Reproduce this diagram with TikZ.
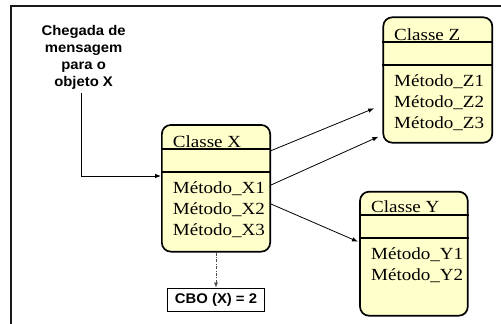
\documentclass[tikz,border=0pt]{standalone}
\usepackage{fontspec}
\setmainfont{Liberation Serif}
\newfontfamily\umlfont[FakeStretch=1.12]{Liberation Serif}
\newfontfamily\notefont[FakeStretch=1.06]{Liberation Sans}
\usetikzlibrary{arrows.meta}
\definecolor{classfill}{HTML}{FFFFCC}
\begin{document}
\begin{tikzpicture}[x=1pt,y=-1pt,
  classbox/.style={draw=black, line width=1.7pt, fill=classfill,
    rounded corners=9pt, inner sep=0pt},
  sep/.style={line width=1.6pt},
  umltext/.style={font=\umlfont\fontsize{17}{21}\selectfont,
    anchor=base west, inner sep=0pt},
  note/.style={font=\notefont\bfseries\fontsize{14}{17}\selectfont,
    align=center, inner sep=3pt},
  link/.style={line width=0.8pt, -{Latex[length=6pt,width=4.5pt]}},
  depend/.style={line width=0.6pt, black!70,
    dash pattern=on 3pt off 1.5pt on 0.8pt off 1.5pt,
    -{Latex[length=5pt,width=4pt]}},
]
\useasboundingbox (0,0) rectangle (501,324);

% outer frame
\draw[line width=1.8pt, black!90] (11,330) -- (11,6) -- (510,6);

% class X
\node[classbox, minimum width=108.3pt, minimum height=126.7pt] (X) at (216,188.3) {};
\draw[sep] ([yshift=-25pt]X.north west) -- ([yshift=-25pt]X.north east);
\draw[sep] ([yshift=-47.7pt]X.north west) -- ([yshift=-47.7pt]X.north east);
\node[umltext] (xt) at (172.7,147) {Classe X};
\node[umltext] (x1) at (172.7,193.3) {Método\_X1};
\node[umltext] (x2) at (172.7,214.3) {Método\_X2};
\node[umltext] (x3) at (172.7,235.3) {Método\_X3};

% class Z
\node[classbox, minimum width=109pt, minimum height=125.4pt] (Z) at (437.8,80) {};
\draw[sep] ([yshift=-25.4pt]Z.north west) -- ([yshift=-25.4pt]Z.north east);
\draw[sep] ([yshift=-48.7pt]Z.north west) -- ([yshift=-48.7pt]Z.north east);
\node[umltext] (zt) at (394,40) {Classe Z};
\node[umltext] (z1) at (394,86) {Método\_Z1};
\node[umltext] (z2) at (394,107.3) {Método\_Z2};
\node[umltext] (z3) at (394,128.6) {Método\_Z3};

% class Y
\node[classbox, minimum width=107.7pt, minimum height=124pt] (Y) at (413.9,253.7) {};
\draw[sep] ([yshift=-24.3pt]Y.north west) -- ([yshift=-24.3pt]Y.north east);
\draw[sep] ([yshift=-47.3pt]Y.north west) -- ([yshift=-47.3pt]Y.north east);
\node[umltext] (yt) at (371,212.7) {Classe Y};
\node[umltext] (y1) at (371,259) {Método\_Y1};
\node[umltext] (y2) at (371,280.7) {Método\_Y2};

% incoming message
\node[note] (msg) at (83.6,57.4) {Chegada de\\mensagem\\para o\\objeto X};
\draw[link] ([xshift=-1.8pt]msg.south) |- ([yshift=12.3pt]X.west);

% couplings
\draw[link] ([yshift=37.6pt]X.east) -- ([xshift=-8.3pt,yshift=-28.3pt]Z.west);
\draw[link] ([yshift=3.3pt]X.east) -- ([xshift=-4pt,yshift=-56.7pt]Z.west);
\draw[link] ([yshift=-15.7pt]X.east) -- ([xshift=-1.2pt,yshift=12pt]Y.west);

% metric
\node[draw, line width=0.9pt, minimum width=96.3pt, minimum height=23.7pt,
  inner sep=0pt, font=\notefont\bfseries\fontsize{14}{17}\selectfont]
  (cbo) at (216,299.9) {CBO (X) = 2};
\draw[depend] (X.south) -- (cbo.north);
\end{tikzpicture}
\end{document}
